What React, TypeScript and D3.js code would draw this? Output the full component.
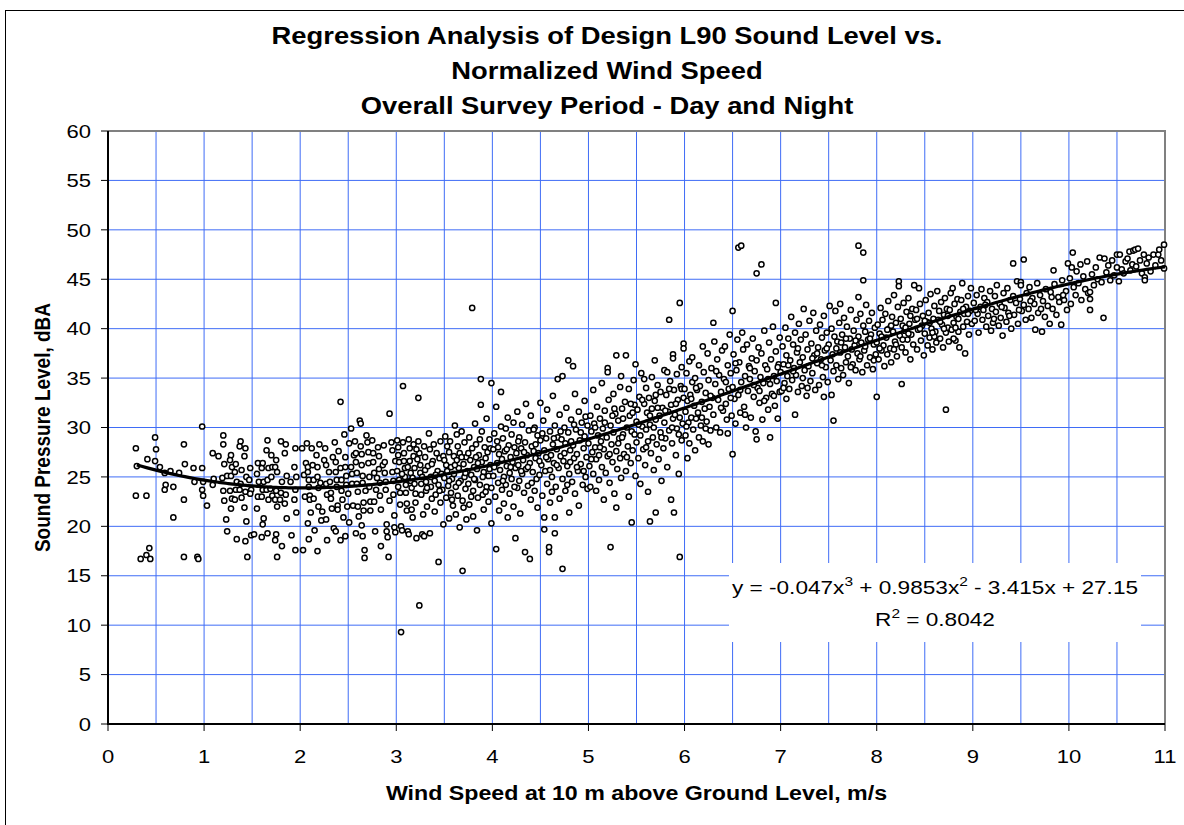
import React, { useRef, useEffect } from 'react';
import * as d3 from 'd3';

const obsBelow1: [number, number][] = [
  [0.29,27.9],[0.3,26.1],[0.29,23.1],[0.4,23.1],[0.41,26.8],[0.34,16.7],[0.4,17.1],[0.43,17.8],[0.44,16.7],[0.49,29.0],
  [0.5,27.8],[0.49,26.6],[0.54,26.0],[0.59,25.4],[0.6,24.2],[0.59,23.7],[0.65,25.6],[0.68,24.0],[0.68,20.9],[0.74,25.4],
  [0.79,28.3],[0.8,26.3],[0.79,22.7],[0.79,16.9],[0.89,25.9],[0.9,24.5],[0.93,16.9],[0.94,16.7],[0.98,30.1],[0.98,25.9],
  [0.99,24.5],[0.98,23.7],[0.99,23.1],[1.03,22.1]
];

const obs1to2: [number, number][] = [
  [1.09,27.4],[1.1,24.8],[1.09,24.2],[1.15,27.1],[1.2,29.2],[1.2,28.3],[1.21,26.3],[1.19,24.9],[1.2,23.6],[1.21,22.6],
  [1.23,20.7],[1.24,19.5],[1.24,25.1],[1.28,27.2],[1.27,26.7],[1.29,26.0],[1.28,25.1],[1.27,23.6],[1.29,22.8],[1.28,21.8],
  [1.33,26.3],[1.32,25.5],[1.34,24.5],[1.33,23.7],[1.32,22.7],[1.34,18.7],[1.38,28.6],[1.37,28.1],[1.39,25.7],[1.38,24.3],
  [1.37,23.7],[1.39,22.9],[1.43,27.9],[1.42,27.1],[1.44,25.0],[1.43,23.5],[1.42,21.9],[1.44,20.5],[1.43,18.5],[1.45,16.9],
  [1.48,25.9],[1.47,24.7],[1.49,23.7],[1.48,23.3],[1.49,19.1],[1.52,19.2],[1.56,26.4],[1.55,25.3],[1.57,24.5],[1.56,23.0],
  [1.55,21.8],[1.61,26.4],[1.6,25.9],[1.62,24.5],[1.61,23.7],[1.6,23.0],[1.62,20.8],[1.61,20.2],[1.6,18.9],[1.66,28.7],
  [1.65,27.7],[1.67,25.9],[1.66,24.7],[1.65,23.7],[1.67,22.7],[1.66,19.3],[1.7,27.2],[1.71,26.0],[1.7,25.0],[1.69,23.8],
  [1.71,23.1],[1.75,26.7],[1.74,26.0],[1.76,25.5],[1.75,23.6],[1.74,22.7],[1.76,22.0],[1.75,19.2],[1.74,18.6],[1.76,16.9],
  [1.8,28.6],[1.81,24.5],[1.8,23.4],[1.79,22.7],[1.81,18.0],[1.85,28.3],[1.84,27.4],[1.86,25.1],[1.85,23.2],[1.84,22.3],
  [1.86,20.8],[1.9,24.5],[1.91,19.1],[1.95,27.9],[1.94,26.0],[1.96,25.0],[1.95,23.7],[1.94,22.7],[1.96,21.4],[1.95,17.6]
];

const obs2to3: [number, number][] = [
  [2.02,27.9],[2.03,17.6],[2.04,25.2],[2.05,23.0],[2.06,26.4],[2.07,28.4],[2.08,26.0],[2.08,25.5],[2.09,24.7],[2.09,24.0],
  [2.1,23.1],[2.1,22.7],[2.11,21.4],[2.08,20.3],[2.09,18.7],[2.12,27.9],[2.13,26.2],[2.14,24.7],[2.14,22.8],[2.15,19.6],
  [2.17,27.2],[2.18,26.0],[2.18,25.0],[2.19,23.9],[2.19,22.0],[2.18,17.5],[2.2,28.3],[2.21,24.4],[2.22,20.6],[2.23,21.5],
  [2.25,26.7],[2.26,27.9],[2.27,26.2],[2.27,24.3],[2.28,23.2],[2.27,20.7],[2.28,18.6],[2.3,25.5],[2.31,24.5],[2.32,23.4],
  [2.32,22.8],[2.33,21.8],[2.34,27.0],[2.35,19.8],[2.36,28.5],[2.37,26.5],[2.37,25.5],[2.38,24.7],[2.38,24.0],[2.39,22.1],
  [2.39,21.7],[2.37,19.5],[2.4,27.6],[2.42,32.6],[2.42,25.9],[2.43,24.7],[2.43,23.6],[2.44,22.7],[2.42,18.6],[2.45,20.9],
  [2.46,29.3],[2.47,27.0],[2.47,26.0],[2.48,25.1],[2.48,24.2],[2.49,22.0],[2.47,19.0],[2.5,23.3],[2.51,28.4],[2.51,20.4],
  [2.53,29.9],[2.53,26.0],[2.54,25.3],[2.54,24.3],[2.55,22.1],[2.56,27.2],[2.57,28.6],[2.58,27.4],[2.58,26.5],[2.59,25.4],
  [2.59,24.3],[2.6,23.5],[2.6,22.0],[2.58,19.3],[2.61,21.0],[2.62,30.7],[2.63,30.4],[2.63,28.1],[2.64,27.3],[2.64,26.2],
  [2.65,25.1],[2.65,24.4],[2.66,22.4],[2.66,21.6],[2.64,20.1],[2.65,19.0],[2.67,17.6],[2.67,16.8],[2.68,23.6],[2.69,29.2],
  [2.7,28.5],[2.71,27.5],[2.71,26.4],[2.72,25.0],[2.72,24.0],[2.73,22.5],[2.73,21.6],[2.75,28.7],[2.76,27.4],[2.76,26.5],
  [2.77,25.4],[2.77,22.5],[2.78,19.5],[2.79,23.7],[2.8,24.9],[2.81,28.0],[2.82,27.1],[2.82,25.8],[2.83,24.4],[2.83,23.1],
  [2.84,21.7],[2.84,18.0],[2.86,26.2],[2.87,28.2],[2.88,26.5],[2.88,25.4],[2.89,24.5],[2.89,23.7],[2.9,20.2],[2.9,19.5],
  [2.91,18.9],[2.92,16.9],[2.93,31.4],[2.93,22.6],[2.95,28.5],[2.96,27.7],[2.96,25.5],[2.97,24.6],[2.97,23.2],[2.98,21.1],
  [2.98,19.9],[2.99,19.4],[2.99,26.6]
];

const obs3to4: [number, number][] = [
  [3.01,28.7],[3.01,25.6],[3.02,28.0],[3.02,27.2],[3.03,26.5],[3.03,24.7],[3.04,23.4],[3.04,22.2],[3.05,9.3],[3.05,20.0],
  [3.06,19.6],[3.07,34.2],[3.07,28.5],[3.08,27.4],[3.08,26.6],[3.09,25.9],[3.09,25.0],[3.1,24.2],[3.1,23.4],[3.11,22.3],
  [3.11,21.6],[3.12,19.5],[3.13,19.2],[3.13,28.8],[3.14,27.9],[3.14,26.6],[3.15,25.4],[3.15,24.6],[3.16,23.9],[3.16,21.7],
  [3.17,20.9],[3.18,28.3],[3.18,27.1],[3.19,25.9],[3.19,24.3],[3.2,23.3],[3.2,22.4],[3.21,18.8],[3.22,26.8],[3.23,33.0],
  [3.23,28.6],[3.24,12.0],[3.24,27.4],[3.25,26.2],[3.25,25.4],[3.26,24.3],[3.26,23.2],[3.27,19.2],[3.28,21.2],[3.29,19.0],
  [3.29,28.1],[3.3,27.0],[3.3,25.7],[3.31,24.5],[3.31,23.6],[3.32,22.0],[3.33,26.1],[3.34,29.4],[3.35,19.3],[3.35,27.8],
  [3.36,25.0],[3.36,24.0],[3.37,22.8],[3.38,26.6],[3.39,28.3],[3.4,24.6],[3.4,21.5],[3.41,23.2],[3.42,27.4],[3.43,25.6],
  [3.44,16.4],[3.44,24.2],[3.45,26.9],[3.46,28.6],[3.46,22.4],[3.47,25.3],[3.48,23.7],[3.49,20.2],[3.49,27.1],[3.5,24.9],
  [3.51,29.1],[3.52,26.2],[3.52,22.9],[3.53,25.6],[3.54,24.1],[3.55,27.5],[3.55,20.8],[3.56,28.6],[3.57,23.4],[3.57,26.0],
  [3.58,24.8],[3.59,22.1],[3.6,27.1],[3.6,25.3],[3.61,30.2],[3.62,24.0],[3.62,21.2],[3.63,26.7],[3.64,28.1],[3.64,23.1],
  [3.65,25.9],[3.66,19.9],[3.66,27.4],[3.67,24.6],[3.68,29.6],[3.69,15.5],[3.69,22.6],[3.7,26.3],[3.71,25.0],[3.71,28.5],
  [3.72,23.8],[3.73,20.7],[3.73,27.0],[3.74,25.6],[3.75,24.3],[3.76,29.0],[3.76,22.2],[3.77,26.7],[3.78,25.2],[3.79,42.1],
  [3.79,27.9],[3.8,23.6],[3.8,21.0],[3.81,26.0],[3.82,30.4],[3.82,24.7],[3.83,28.3],[3.84,25.8],[3.84,19.6],[3.85,22.9],
  [3.86,27.2],[3.87,24.2],[3.88,34.9],[3.88,32.3],[3.89,26.5],[3.89,29.6],[3.9,23.2],[3.91,25.5],[3.91,21.7],[3.92,28.0],
  [3.93,26.9],[3.94,24.0],[3.94,30.9],[3.95,27.5],[3.96,25.1],[3.96,22.5],[3.97,28.8],[3.98,26.2],[3.99,34.5],[3.99,23.9],
  [3.99,20.3],[3.02,24.0],[3.06,25.3],[3.12,26.0],[3.17,24.9],[3.21,27.8],[3.27,25.0],[3.32,23.9],[3.37,26.3],[3.41,25.2],
  [3.45,23.6],[3.5,26.7],[3.53,28.1],[3.58,22.7],[3.61,26.2],[3.65,24.4],[3.68,27.0],[3.72,25.4],[3.75,27.4],[3.78,23.0],
  [3.81,24.8],[3.85,26.4],[3.87,28.8],[3.9,25.0],[3.93,23.5],[3.97,25.8],[3.98,27.9],[3.55,24.6],[3.63,29.3],[3.7,21.9],
  [3.83,27.0]
];

const obs4to5: [number, number][] = [
  [4.01,27.8],[4.01,25.1],[4.02,29.4],[4.03,23.0],[4.04,32.1],[4.04,17.7],[4.05,26.4],[4.05,28.6],[4.06,24.4],[4.07,21.6],
  [4.07,27.3],[4.08,25.7],[4.09,33.6],[4.09,30.1],[4.1,26.8],[4.1,23.7],[4.11,28.9],[4.12,25.0],[4.12,22.3],[4.13,27.6],
  [4.14,29.9],[4.14,24.2],[4.15,26.1],[4.16,31.0],[4.16,20.9],[4.17,28.2],[4.18,25.4],[4.18,23.3],[4.19,27.0],[4.2,29.3],
  [4.2,24.8],[4.21,26.5],[4.22,22.0],[4.22,30.5],[4.23,28.0],[4.24,18.8],[4.24,25.9],[4.25,27.4],[4.26,23.9],[4.26,31.6],
  [4.27,26.2],[4.28,29.0],[4.28,24.6],[4.29,21.3],[4.3,27.9],[4.31,25.3],[4.31,30.3],[4.32,26.7],[4.33,23.4],[4.34,17.4],
  [4.34,28.5],[4.35,32.4],[4.35,25.8],[4.36,27.2],[4.37,24.1],[4.38,29.7],[4.39,16.7],[4.39,26.4],[4.4,22.7],[4.4,31.2],
  [4.41,28.1],[4.42,25.5],[4.43,27.6],[4.44,23.6],[4.44,30.0],[4.45,26.9],[4.46,24.8],[4.47,29.2],[4.47,21.9],[4.48,27.4],
  [4.49,25.2],[4.5,32.5],[4.5,28.7],[4.51,26.2],[4.52,23.1],[4.53,30.7],[4.54,20.9],[4.54,19.7],[4.54,27.7],[4.55,25.6],
  [4.56,28.9],[4.57,24.3],[4.57,31.8],[4.58,26.8],[4.59,17.9],[4.59,17.4],[4.6,29.6],[4.6,22.4],[4.61,27.2],[4.62,25.0],
  [4.63,33.2],[4.63,28.3],[4.64,26.4],[4.65,20.9],[4.65,19.3],[4.65,30.2],[4.66,24.0],[4.67,27.8],[4.68,34.9],[4.68,29.0],
  [4.69,25.9],[4.7,22.8],[4.7,31.3],[4.71,27.1],[4.72,28.8],[4.73,15.7],[4.73,35.2],[4.73,24.8],[4.74,26.6],[4.75,30.0],
  [4.76,23.6],[4.76,28.4],[4.77,32.0],[4.78,26.1],[4.79,36.8],[4.79,29.5],[4.8,25.3],[4.8,21.4],[4.81,27.7],[4.82,30.8],
  [4.83,24.5],[4.84,36.2],[4.84,28.2],[4.85,26.9],[4.86,33.4],[4.86,23.3],[4.87,29.8],[4.88,27.3],[4.89,25.6],[4.9,31.6],
  [4.9,22.1],[4.91,28.7],[4.92,26.3],[4.93,30.5],[4.94,24.2],[4.95,27.9],[4.96,32.7],[4.96,29.1],[4.97,25.0],[4.98,27.0],
  [4.99,30.2],[4.99,23.8],[4.02,26.0],[4.06,28.0],[4.11,24.6],[4.15,27.8],[4.19,26.0],[4.23,24.0],[4.27,28.6],[4.3,25.6],
  [4.33,27.5],[4.37,26.0],[4.41,24.4],[4.45,28.3],[4.49,26.6],[4.52,29.4],[4.56,27.0],[4.6,25.7],[4.64,28.9],[4.67,26.2],
  [4.71,29.6],[4.75,27.4],[4.78,24.2],[4.82,28.6],[4.85,30.3],[4.88,26.0],[4.92,29.5],[4.95,25.6],[4.97,31.1],[4.43,29.8],
  [4.62,23.5],[4.81,26.5]
];

const obs5to6: [number, number][] = [
  [5.0,28.4],[5.01,26.1],[5.02,24.0],[5.02,31.2],[5.03,29.6],[5.04,27.5],[5.05,33.8],[5.05,25.3],[5.06,30.4],[5.07,28.0],
  [5.08,23.6],[5.08,26.8],[5.09,32.1],[5.1,29.2],[5.11,27.2],[5.11,24.7],[5.12,30.9],[5.13,28.6],[5.14,34.5],[5.14,26.0],
  [5.15,29.9],[5.16,22.7],[5.16,27.8],[5.17,31.7],[5.18,25.4],[5.19,29.0],[5.2,36.0],[5.2,35.6],[5.2,27.1],[5.21,32.8],
  [5.22,24.4],[5.23,17.9],[5.23,30.2],[5.24,28.3],[5.25,26.5],[5.26,33.4],[5.26,29.5],[5.27,23.3],[5.28,31.4],[5.29,37.3],
  [5.29,21.9],[5.29,27.6],[5.3,25.8],[5.31,30.7],[5.32,28.9],[5.33,34.1],[5.33,26.9],[5.34,35.2],[5.34,24.9],[5.35,31.9],
  [5.36,29.3],[5.37,27.3],[5.38,32.6],[5.39,37.3],[5.39,25.6],[5.4,30.0],[5.41,28.1],[5.42,33.9],[5.42,23.0],[5.43,31.2],
  [5.44,26.4],[5.45,20.4],[5.45,29.6],[5.46,27.7],[5.47,34.8],[5.48,32.3],[5.49,36.4],[5.49,25.1],[5.5,30.6],[5.5,28.5],
  [5.51,31.8],[5.52,26.9],[5.53,33.1],[5.54,29.2],[5.54,24.3],[5.55,35.5],[5.56,30.1],[5.57,27.8],[5.58,32.4],[5.59,26.2],
  [5.6,29.8],[5.6,34.0],[5.61,31.5],[5.62,23.5],[5.62,28.6],[5.63,33.0],[5.64,20.5],[5.64,30.3],[5.65,27.4],[5.66,35.1],
  [5.66,31.9],[5.67,29.0],[5.68,25.7],[5.69,36.8],[5.69,32.7],[5.7,21.4],[5.7,30.8],[5.71,28.3],[5.72,34.3],[5.73,26.8],
  [5.74,31.2],[5.75,33.6],[5.75,29.5],[5.76,24.6],[5.77,32.0],[5.78,27.9],[5.79,35.8],[5.79,30.5],[5.8,28.9],[5.81,33.3],
  [5.82,26.0],[5.83,31.6],[5.84,40.9],[5.84,29.7],[5.85,34.7],[5.86,32.3],[5.86,22.7],[5.87,28.4],[5.88,37.4],[5.88,37.0],
  [5.88,30.9],[5.89,21.4],[5.89,33.8],[5.9,31.3],[5.91,27.2],[5.92,35.4],[5.92,29.9],[5.93,32.8],[5.94,25.3],[5.95,42.6],
  [5.95,16.9],[5.95,31.0],[5.96,34.2],[5.97,28.7],[5.97,36.1],[5.98,30.4],[5.99,38.5],[5.99,38.0],[5.99,33.0],[5.03,26.8],
  [5.07,30.0],[5.12,28.0],[5.17,30.5],[5.22,27.3],[5.27,31.9],[5.31,28.4],[5.36,30.9],[5.4,27.0],[5.44,32.4],[5.48,29.3],
  [5.52,30.3],[5.56,32.8],[5.6,28.0],[5.64,31.2],[5.68,30.0],[5.72,32.0],[5.76,29.0],[5.8,31.7],[5.84,33.9],[5.87,30.0],
  [5.91,32.4],[5.94,29.3],[5.97,33.9],[5.58,34.9],[5.7,33.3],[5.82,35.6],[5.46,31.5],[5.35,29.0],[5.25,31.2]
];

const obs6to7: [number, number][] = [
  [6.0,33.9],[6.01,31.6],[6.01,29.2],[6.02,35.5],[6.03,26.9],[6.03,32.7],[6.04,30.5],[6.05,36.7],[6.05,28.4],[6.06,33.3],
  [6.07,31.0],[6.08,37.1],[6.08,34.6],[6.09,29.8],[6.1,32.2],[6.11,27.7],[6.11,35.0],[6.12,30.9],[6.13,33.8],[6.14,31.5],
  [6.15,29.0],[6.15,36.3],[6.16,34.2],[6.17,30.2],[6.18,32.6],[6.19,38.2],[6.19,28.6],[6.2,35.6],[6.21,31.9],[6.22,33.5],
  [6.23,30.6],[6.24,37.5],[6.25,28.3],[6.25,34.8],[6.26,32.1],[6.27,29.7],[6.28,36.0],[6.29,33.0],[6.3,40.6],[6.3,31.3],
  [6.31,38.7],[6.32,34.4],[6.33,30.0],[6.34,36.9],[6.35,32.8],[6.36,35.3],[6.37,29.5],[6.38,33.6],[6.39,37.8],[6.4,31.7],
  [6.41,34.9],[6.42,38.2],[6.43,32.4],[6.44,30.8],[6.45,29.4],[6.45,36.3],[6.46,33.9],[6.47,39.4],[6.48,35.5],[6.49,31.2],
  [6.5,41.8],[6.5,27.3],[6.5,34.1],[6.51,37.4],[6.52,32.9],[6.53,30.4],[6.54,35.8],[6.55,38.9],[6.56,48.2],[6.56,33.3],
  [6.57,36.6],[6.58,31.5],[6.59,48.4],[6.59,34.6],[6.6,39.6],[6.61,37.9],[6.62,32.1],[6.63,35.2],[6.64,30.0],[6.65,38.4],
  [6.66,33.7],[6.67,36.2],[6.68,34.9],[6.69,31.0],[6.7,37.0],[6.71,39.0],[6.72,33.1],[6.73,35.7],[6.74,29.6],[6.75,45.6],
  [6.75,28.8],[6.75,36.8],[6.76,34.0],[6.77,38.1],[6.78,32.5],[6.79,35.1],[6.8,46.5],[6.8,37.5],[6.81,30.8],[6.82,34.5],
  [6.83,39.8],[6.84,36.3],[6.85,33.0],[6.86,35.9],[6.87,31.8],[6.88,38.6],[6.89,29.0],[6.89,34.4],[6.9,36.9],[6.91,33.4],
  [6.92,40.2],[6.93,35.2],[6.94,32.2],[6.95,42.6],[6.95,37.7],[6.96,34.7],[6.97,30.9],[6.98,36.4],[6.99,39.1],[6.99,33.6],
  [6.02,30.1],[6.07,32.9],[6.12,34.0],[6.18,31.0],[6.22,29.9],[6.27,33.2],[6.33,35.7],[6.38,32.0],[6.43,34.6],[6.48,33.0],
  [6.53,36.5],[6.58,33.8],[6.63,31.3],[6.68,36.0],[6.72,34.3],[6.78,33.7],[6.83,32.7],[6.87,34.9],[6.93,33.2],[6.97,36.1]
];

const obs7to8: [number, number][] = [
  [7.0,35.6],[7.01,33.7],[7.02,38.2],[7.03,36.4],[7.04,34.5],[7.05,40.1],[7.06,32.9],[7.06,37.3],[7.07,35.2],[7.08,39.0],
  [7.09,33.9],[7.1,36.8],[7.11,41.2],[7.12,34.8],[7.13,38.4],[7.14,36.0],[7.15,31.3],[7.15,39.6],[7.16,35.3],[7.17,37.6],
  [7.18,33.6],[7.19,40.5],[7.2,36.6],[7.21,38.9],[7.22,34.2],[7.23,37.1],[7.24,42.0],[7.25,35.8],[7.26,39.4],[7.27,33.2],
  [7.28,37.9],[7.29,36.2],[7.3,40.8],[7.31,34.7],[7.32,38.5],[7.33,35.5],[7.34,41.6],[7.35,37.3],[7.36,33.8],[7.37,39.8],
  [7.38,36.5],[7.39,38.1],[7.4,34.3],[7.41,40.4],[7.42,36.9],[7.43,39.1],[7.44,35.1],[7.45,33.1],[7.45,41.3],[7.46,37.8],
  [7.47,36.1],[7.48,39.6],[7.49,34.6],[7.5,38.4],[7.51,42.3],[7.52,36.8],[7.53,33.3],[7.53,40.0],[7.54,37.4],[7.55,30.7],
  [7.55,35.7],[7.56,39.2],[7.57,41.8],[7.58,36.3],[7.59,38.7],[7.6,34.9],[7.61,40.6],[7.62,42.5],[7.62,37.6],[7.63,36.0],
  [7.64,39.4],[7.65,35.3],[7.66,41.1],[7.67,38.1],[7.68,36.6],[7.69,40.2],[7.7,37.2],[7.71,34.5],[7.72,39.0],[7.73,41.9],
  [7.74,37.9],[7.75,36.4],[7.76,39.8],[7.77,38.3],[7.78,35.8],[7.79,40.9],[7.8,37.5],[7.81,48.4],[7.81,43.2],[7.81,39.2],
  [7.82,36.9],[7.83,41.5],[7.84,38.6],[7.85,35.6],[7.86,47.7],[7.86,44.9],[7.86,40.3],[7.87,37.8],[7.88,39.7],[7.89,42.4],
  [7.9,36.3],[7.91,38.9],[7.92,40.8],[7.93,37.1],[7.94,39.4],[7.95,41.6],[7.96,35.9],[7.97,38.4],[7.98,40.1],[7.99,37.4],
  [7.03,34.0],[7.08,36.3],[7.13,35.7],[7.18,38.0],[7.23,35.0],[7.28,34.0],[7.33,37.0],[7.38,37.5],[7.43,36.3],[7.48,38.0],
  [7.58,38.0],[7.63,38.6],[7.68,39.0],[7.73,36.1],[7.78,38.8],[7.83,37.2],[7.88,38.2],[7.93,39.0],[7.97,36.8]
];

const obs8to9: [number, number][] = [
  [8.0,33.1],[8.0,38.6],[8.01,40.4],[8.02,36.9],[8.03,39.5],[8.04,42.1],[8.05,37.8],[8.06,40.9],[8.07,38.3],[8.08,36.2],
  [8.09,41.5],[8.1,39.1],[8.11,37.4],[8.12,42.8],[8.13,40.0],[8.14,38.0],[8.15,36.6],[8.16,41.2],[8.17,39.7],[8.18,43.4],
  [8.19,38.7],[8.2,40.6],[8.21,37.2],[8.22,42.2],[8.23,44.8],[8.23,44.3],[8.24,39.3],[8.25,41.0],[8.26,34.4],[8.26,38.1],
  [8.27,40.3],[8.28,42.6],[8.29,39.8],[8.3,37.6],[8.31,41.7],[8.32,38.9],[8.33,43.1],[8.34,40.5],[8.35,36.9],[8.36,39.4],
  [8.37,42.0],[8.38,38.4],[8.39,44.4],[8.4,40.9],[8.41,41.9],[8.42,37.9],[8.43,39.9],[8.44,44.1],[8.45,42.5],[8.46,38.8],
  [8.47,40.3],[8.48,41.3],[8.49,37.3],[8.5,39.5],[8.51,42.9],[8.52,40.7],[8.53,38.3],[8.54,41.6],[8.55,39.1],[8.56,43.5],
  [8.57,40.0],[8.58,37.9],[8.59,41.0],[8.6,42.3],[8.61,39.7],[8.62,38.6],[8.63,43.8],[8.64,40.9],[8.65,41.8],[8.66,39.0],
  [8.67,42.7],[8.68,40.4],[8.69,38.1],[8.7,41.4],[8.71,43.1],[8.72,31.8],[8.72,39.6],[8.73,42.0],[8.74,40.1],[8.75,38.7],
  [8.76,41.9],[8.77,43.6],[8.78,39.9],[8.79,44.1],[8.8,40.6],[8.81,42.5],[8.82,38.8],[8.83,41.2],[8.84,43.0],[8.85,39.7],
  [8.86,38.1],[8.87,41.7],[8.88,42.9],[8.89,44.6],[8.9,40.2],[8.91,41.5],[8.92,37.5],[8.93,42.2],[8.94,40.7],[8.95,43.3],
  [8.96,39.4],[8.97,41.8],[8.98,44.1],[8.99,40.5],[8.05,39.2],[8.15,40.3],[8.2,38.4],[8.3,40.1],[8.35,41.3],[8.45,40.0],
  [8.55,40.6],[8.6,39.2],[8.7,40.0],[8.8,39.0],[8.85,41.0],[8.95,41.5],[8.03,38.0],[8.11,39.9],[8.18,37.9],[8.27,38.9],
  [8.33,39.5],[8.42,41.0],[8.5,40.8],[8.58,39.6],[8.66,40.7],[8.74,41.3],[8.82,40.1],[8.9,42.0]
];

const obs9to10: [number, number][] = [
  [9.01,42.6],[9.02,40.8],[9.04,43.4],[9.05,41.5],[9.06,39.6],[9.08,42.2],[9.09,44.0],[9.1,40.9],[9.11,41.9],[9.12,43.1],
  [9.14,40.2],[9.15,42.7],[9.16,41.3],[9.18,43.8],[9.19,39.8],[9.2,42.0],[9.21,40.6],[9.23,43.3],[9.24,41.7],[9.25,44.4],
  [9.27,40.3],[9.28,42.5],[9.29,41.1],[9.31,39.3],[9.32,43.6],[9.33,42.1],[9.35,40.7],[9.36,44.1],[9.37,41.6],[9.39,42.9],
  [9.4,40.0],[9.42,46.6],[9.42,43.3],[9.43,41.4],[9.45,42.6],[9.46,44.8],[9.47,40.5],[9.49,43.0],[9.5,44.7],[9.5,44.4],
  [9.51,41.8],[9.53,47.0],[9.53,42.4],[9.55,40.9],[9.56,43.6],[9.58,42.0],[9.59,44.2],[9.61,41.1],[9.62,43.1],[9.64,42.5],
  [9.65,39.9],[9.67,44.6],[9.68,41.6],[9.7,43.4],[9.72,39.7],[9.73,42.8],[9.75,41.2],[9.76,44.0],[9.78,42.3],[9.8,40.5],
  [9.81,43.7],[9.83,42.0],[9.84,45.9],[9.85,44.5],[9.87,41.4],[9.89,43.2],[9.9,42.7],[9.92,40.4],[9.93,44.9],[9.95,42.9],
  [9.97,43.8],[9.98,41.9],[9.99,46.6],[9.03,41.9],[9.13,42.4],[9.22,41.0],[9.3,42.2],[9.38,41.3],[9.48,41.9],[9.6,42.8],
  [9.71,42.0],[9.82,43.2],[9.94,43.4]
];

const obs10to11: [number, number][] = [
  [10.01,45.1],[10.02,42.5],[10.03,46.2],[10.04,47.7],[10.05,44.2],[10.07,43.4],[10.08,45.8],[10.1,44.6],[10.12,46.5],[10.13,42.9],
  [10.15,45.3],[10.17,44.0],[10.19,46.8],[10.2,43.6],[10.22,41.9],[10.22,43.0],[10.22,43.7],[10.24,45.5],[10.26,44.4],[10.28,46.2],
  [10.3,45.0],[10.32,47.2],[10.34,44.7],[10.36,41.1],[10.37,47.1],[10.39,45.7],[10.41,46.4],[10.43,44.9],[10.45,46.9],[10.47,45.4],
  [10.5,47.5],[10.5,46.2],[10.52,44.8],[10.53,47.5],[10.55,46.0],[10.57,45.6],[10.59,46.8],[10.61,47.1],[10.63,47.8],[10.64,45.9],
  [10.66,46.5],[10.67,47.9],[10.69,48.0],[10.7,46.3],[10.72,48.1],[10.74,46.9],[10.76,45.6],[10.78,47.5],[10.79,45.2],[10.79,44.9],
  [10.81,46.6],[10.83,47.2],[10.85,45.8],[10.88,47.5],[10.9,46.4],[10.93,47.5],[10.94,48.0],[10.96,46.9],[10.99,48.5],[10.99,46.1]
];

// Cubic trendline coefficients from the chart label (a3, a2, a1, a0)
const trendCoefs = [-0.047, 0.9853, -3.415, 27.15];
const trendRange = [0.3, 11];

const titleLines = [
  'Regression Analysis of Design L90 Sound Level vs.',
  'Normalized Wind Speed',
  'Overall Survey Period - Day and Night'
];
const xTicks = d3.range(0, 12);
const yTicks = d3.range(0, 65, 5);
const xGrid = d3.range(0.5, 11, 0.5);
const xLabel = 'Wind Speed at 10 m above Ground Level, m/s';
const yLabel = 'Sound Pressure Level, dBA';

const FONT = '"Liberation Sans", Arial, Helvetica, sans-serif';
// the original chart image is stretched sideways, so horizontal text is widened
const SX = 1.19;

const App = () => {
  const svgRef = useRef<SVGSVGElement>(null);

  useEffect(() => {
    const width = 1184;
    const height = 825;
    const plot = { left: 108, right: 1165, top: 131, bottom: 724 };

    const svg = d3.select(svgRef.current);
    svg.selectAll('*').remove();

    const x = d3.scaleLinear().domain([0, 11]).range([plot.left, plot.right]);
    const y = d3.scaleLinear().domain([0, 60]).range([plot.bottom, plot.top]);
    const at = (px: number, py: number) => `translate(${px},${py}) scale(${SX},1)`;

    svg.append('rect').attr('width', width).attr('height', height).attr('fill', '#fff');
    // outer chart frame
    svg.append('rect')
      .attr('x', 5.5).attr('y', 10.5)
      .attr('width', 1300).attr('height', 1000)
      .attr('fill', 'none').attr('stroke', '#000').attr('stroke-width', 1);

    // grid
    const gridColor = '#3f6cf6';
    svg.append('g').selectAll('line')
      .data(xGrid)
      .enter().append('line')
      .attr('x1', d => x(d)).attr('x2', d => x(d))
      .attr('y1', plot.top).attr('y2', plot.bottom)
      .attr('stroke', gridColor).attr('stroke-width', 1);
    svg.append('g').selectAll('line')
      .data(yTicks.filter(d => d > 0 && d < 60))
      .enter().append('line')
      .attr('x1', plot.left).attr('x2', plot.right)
      .attr('y1', d => y(d)).attr('y2', d => y(d))
      .attr('stroke', gridColor).attr('stroke-width', 1);

    // plot border (top / right gray)
    svg.append('path')
      .attr('d', `M${plot.left},${plot.top}H${plot.right}V${plot.bottom}`)
      .attr('fill', 'none').attr('stroke', '#808080').attr('stroke-width', 2);

    // equation label background
    svg.append('rect')
      .attr('x', 729).attr('y', 563).attr('width', 412).attr('height', 79)
      .attr('fill', '#fff');

    // axes
    svg.append('line')
      .attr('x1', plot.left).attr('x2', plot.left)
      .attr('y1', plot.top).attr('y2', plot.bottom + 1)
      .attr('stroke', '#000').attr('stroke-width', 2);
    svg.append('line')
      .attr('x1', plot.left - 1).attr('x2', plot.right)
      .attr('y1', plot.bottom).attr('y2', plot.bottom)
      .attr('stroke', '#000').attr('stroke-width', 2);

    svg.append('g').selectAll('line')
      .data(yTicks)
      .enter().append('line')
      .attr('x1', plot.left - 7).attr('x2', plot.left)
      .attr('y1', d => y(d)).attr('y2', d => y(d))
      .attr('stroke', '#000').attr('stroke-width', 1);
    svg.append('g').selectAll('line')
      .data(xTicks)
      .enter().append('line')
      .attr('x1', d => x(d)).attr('x2', d => x(d))
      .attr('y1', plot.bottom).attr('y2', plot.bottom + 7)
      .attr('stroke', '#000').attr('stroke-width', 1);

    svg.append('g').selectAll('text')
      .data(yTicks)
      .enter().append('text')
      .attr('transform', d => at(91, y(d)))
      .attr('dy', '0.36em')
      .attr('text-anchor', 'end')
      .attr('font-family', FONT).attr('font-size', 18.5)
      .text(d => d);
    svg.append('g').selectAll('text')
      .data(xTicks)
      .enter().append('text')
      .attr('transform', d => at(x(d), 763))
      .attr('text-anchor', 'middle')
      .attr('font-family', FONT).attr('font-size', 18.5)
      .text(d => d);

    // scatter
    const allObs = [
      ...obsBelow1, ...obs1to2, ...obs2to3, ...obs3to4, ...obs4to5,
      ...obs5to6, ...obs6to7, ...obs7to8, ...obs8to9, ...obs9to10, ...obs10to11
    ];
    svg.append('g').selectAll('circle')
      .data(allObs)
      .enter().append('circle')
      .attr('cx', d => x(d[0]))
      .attr('cy', d => y(d[1]))
      .attr('r', 2.6)
      .attr('fill', '#fff')
      .attr('stroke', '#000')
      .attr('stroke-width', 1.5);

    // trendline
    const poly = (v: number) =>
      trendCoefs.reduce((acc, c) => acc * v + c, 0);
    const trendLine = d3.line<number>()
      .x(d => x(d))
      .y(d => y(poly(d)))
      .curve(d3.curveBasis);
    svg.append('path')
      .datum(d3.range(trendRange[0], trendRange[1] + 0.001, 0.05))
      .attr('d', trendLine)
      .attr('fill', 'none')
      .attr('stroke', '#000')
      .attr('stroke-width', 3.2);

    // equation
    const eq = svg.append('text')
      .attr('transform', at(935, 594))
      .attr('text-anchor', 'middle')
      .attr('font-family', FONT).attr('font-size', 19);
    const parts: [string, boolean][] = [
      ['y = -0.047x', false], ['3', true], [' + 0.9853x', false], ['2', true],
      [' - 3.415x + 27.15', false]
    ];
    parts.forEach(([t, sup]) => {
      eq.append('tspan')
        .attr('font-size', sup ? 13 : 19)
        .attr('dy', sup ? -8 : 8 * (t.startsWith(' ') ? 1 : 0))
        .text(t);
    });
    const r2 = svg.append('text')
      .attr('transform', at(935, 626))
      .attr('text-anchor', 'middle')
      .attr('font-family', FONT).attr('font-size', 19);
    r2.append('tspan').text('R');
    r2.append('tspan').attr('font-size', 13).attr('dy', -8).text('2');
    r2.append('tspan').attr('dy', 8).text(' = 0.8042');

    // titles
    svg.append('g').selectAll('text')
      .data(titleLines)
      .enter().append('text')
      .attr('transform', (d, i) => at(607, 44 + i * 35))
      .attr('text-anchor', 'middle')
      .attr('font-family', FONT).attr('font-size', 23).attr('font-weight', 'bold')
      .text(d => d);

    svg.append('text')
      .attr('transform', at((plot.left + plot.right) / 2, 800))
      .attr('text-anchor', 'middle')
      .attr('font-family', FONT).attr('font-size', 19.5).attr('font-weight', 'bold')
      .text(xLabel);

    svg.append('text')
      .attr('transform', `translate(50, ${(plot.top + plot.bottom) / 2}) rotate(-90) scale(1,${SX})`)
      .attr('text-anchor', 'middle')
      .attr('font-family', FONT).attr('font-size', 19).attr('font-weight', 'bold')
      .text(yLabel);
  }, []);

  return (
    <div style={{ position: 'absolute', left: 0, top: 0 }}>
      <svg ref={svgRef} width={1184} height={825} style={{ display: 'block' }} />
    </div>
  );
};

export default App;
